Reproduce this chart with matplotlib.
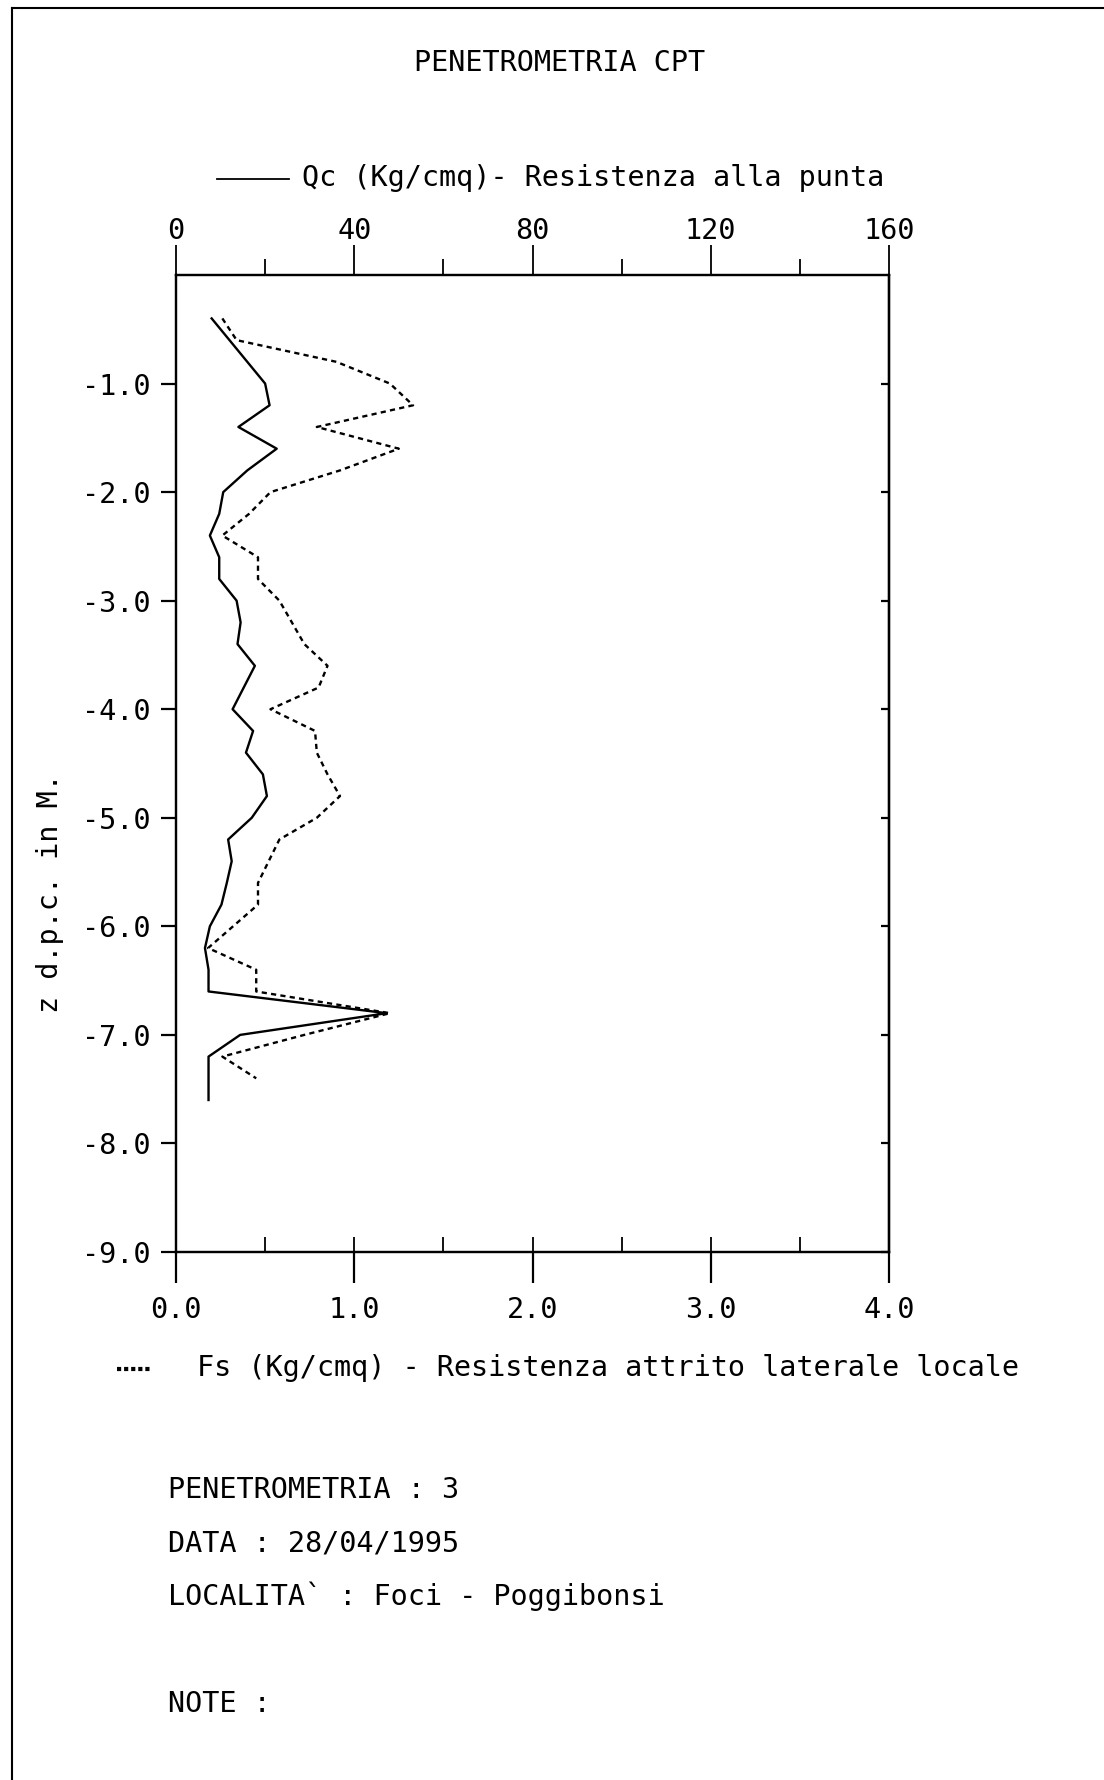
import matplotlib
matplotlib.use("Agg")
import matplotlib.pyplot as plt
from matplotlib.lines import Line2D
from matplotlib.ticker import FixedLocator

plt.rcParams['font.family'] = ['DejaVu Sans Mono', 'DejaVu Sans']

# ---- data ----
depth_qc = [-0.4, -0.6, -0.8, -1.0, -1.2, -1.4, -1.6, -1.8, -2.0, -2.2, -2.4, -2.6, -2.8,
            -3.0, -3.2, -3.4, -3.6, -3.8, -4.0, -4.2, -4.4, -4.6, -4.8, -5.0, -5.2, -5.4,
            -5.6, -5.8, -6.0, -6.2, -6.4, -6.6, -6.8, -7.0, -7.2, -7.4, -7.6]
qc = [8, 12, 16, 20, 21, 14, 22.6, 16, 10.6, 9.7, 7.6, 9.7, 9.7,
      13.6, 14.5, 13.8, 17.7, 15.2, 12.7, 17.3, 15.7, 19.5, 20.4, 17, 11.7, 12.5,
      11.4, 10.2, 7.6, 6.5, 7.3, 7.3, 47.3, 14.4, 7.3, 7.3, 7.3]

depth_fs = [-0.4, -0.6, -0.8, -1.0, -1.2, -1.4, -1.6, -1.8, -2.0, -2.2, -2.4, -2.6, -2.8,
            -3.0, -3.2, -3.4, -3.6, -3.8, -4.0, -4.2, -4.4, -4.6, -4.8, -5.0, -5.2, -5.4,
            -5.6, -5.8, -6.0, -6.2, -6.4, -6.6, -6.8, -7.0, -7.2, -7.4]
fs = [0.26, 0.34, 0.90, 1.20, 1.33, 0.79, 1.25, 0.92, 0.53, 0.41, 0.26, 0.46, 0.46,
      0.58, 0.65, 0.72, 0.85, 0.80, 0.53, 0.78, 0.79, 0.85, 0.92, 0.79, 0.58, 0.52,
      0.46, 0.46, 0.32, 0.18, 0.45, 0.45, 1.20, 0.72, 0.26, 0.45]

fs_ticks = [0.0, 1.0, 2.0, 3.0, 4.0]
fs_ticklabels = ['0.0', '1.0', '2.0', '3.0', '4.0']
qc_ticks = [0, 40, 80, 120, 160]
qc_ticklabels = ['0', '40', '80', '120', '160']
depth_ticks = [-1, -2, -3, -4, -5, -6, -7, -8, -9]
depth_ticklabels = ['-1.0', '-2.0', '-3.0', '-4.0', '-5.0', '-6.0', '-7.0', '-8.0', '-9.0']

title = 'PENETROMETRIA CPT'
qc_label = 'Qc (Kg/cmq)- Resistenza alla punta'
fs_label = 'Fs (Kg/cmq) - Resistenza attrito laterale locale'
ylabel = 'z d.p.c. in M.'
info = ['PENETROMETRIA : 3', 'DATA : 28/04/1995', 'LOCALITA` : Foci - Poggibonsi', 'NOTE :']

W, H = 1104, 1780
FS = 20.5
fig = plt.figure(figsize=(W / 100, H / 100), dpi=100)

def fx(px):
    return px / W

def fy(py):
    return 1 - py / H

L, R, T, B = 176, 889, 275, 1252
ax = fig.add_axes([fx(L), fy(B), (R - L) / W, (B - T) / H])
ax.set_xlim(0, 4)
ax.set_ylim(-9, 0)
for s in ax.spines.values():
    s.set_linewidth(1.6)
    s.set_color('black')

ax.plot(fs, depth_fs, color='black', lw=1.7, linestyle=(0, (2.2, 1.8)))

ax.xaxis.remove_overlapping_locs = False
ax.set_xticks(fs_ticks)
ax.set_xticklabels(fs_ticklabels, fontsize=FS)
ax.xaxis.set_minor_locator(FixedLocator([0, 0.5, 1, 1.5, 2, 2.5, 3, 3.5, 4]))
ax.tick_params(axis='x', which='major', direction='out', length=22, width=1.6, pad=10)
ax.tick_params(axis='x', which='minor', direction='in', length=11, width=1.3)

ax.set_yticks(depth_ticks)
ax.set_yticklabels(depth_ticklabels, fontsize=FS)
ax.tick_params(axis='y', which='major', direction='out', length=11, width=1.6, pad=7)

sec = ax.secondary_yaxis('right')
sec.set_yticks(depth_ticks)
sec.set_yticklabels([])
sec.tick_params(direction='in', length=6, width=1.6)
sec.spines['right'].set_linewidth(1.6)

ax2 = ax.twiny()
ax2.set_xlim(0, 160)
ax2.plot(qc, depth_qc, color='black', lw=1.7)
ax2.set_xticks(qc_ticks)
ax2.set_xticklabels(qc_ticklabels, fontsize=FS)
ax2.xaxis.set_minor_locator(FixedLocator([20, 60, 100, 140]))
ax2.tick_params(axis='x', which='major', direction='out', length=21.5, width=1.3, pad=0)
ax2.tick_params(axis='x', which='minor', direction='out', length=11.5, width=1.3)
for s in ax2.spines.values():
    s.set_linewidth(1.6)

# texts
fig.text(fx(560), fy(63), title, ha='center', va='center', fontsize=FS)
fig.add_artist(Line2D([fx(217), fx(289)], [fy(179), fy(179)], color='black', lw=1.3))
fig.text(fx(302), fy(178), qc_label, ha='left', va='center', fontsize=FS)
fig.add_artist(Line2D([fx(117), fx(151)], [fy(1369), fy(1369)], color='black', lw=3,
                      linestyle=(0, (1.0, 0.7))))
fig.text(fx(197), fy(1368), fs_label, ha='left', va='center', fontsize=FS)
fig.text(fx(50), fy(893), ylabel, ha='center', va='center', rotation=90, fontsize=FS)

for t, y in zip(info, [1490, 1543, 1596, 1704]):
    fig.text(fx(168), fy(y), t, ha='left', va='center', fontsize=FS)

# page frame
fig.add_artist(Line2D([fx(12), fx(12)], [fy(8), fy(1780)], color='black', lw=1.5))
fig.add_artist(Line2D([fx(12), fx(1104)], [fy(8), fy(8)], color='black', lw=1.5))

fig.savefig('out.png', dpi=100)
